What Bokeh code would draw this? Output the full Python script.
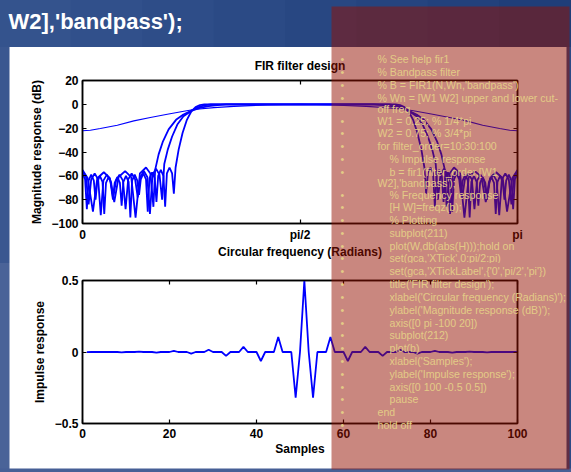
from bokeh.plotting import figure
from bokeh.layouts import column
from bokeh.models import LinearAxis, FixedTicker, Range1d
from bokeh.embed import file_html
from bokeh.resources import INLINE
from bokeh.core.properties import value

# ---------------- data ----------------
slide_title = "W2],'bandpass');"

freq_ticks = [0, 0.5, 1]
freq_tick_labels = {0: "0", 0.5: "pi/2", 1: "pi"}
mag_ticks = [-100, -80, -60, -40, -20, 0, 20]
samp_ticks = [0, 20, 40, 60, 80, 100]
imp_ticks = [-0.5, 0, 0.5]

# magnitude responses, frequency in units of pi
w10 = [0, 0.018, 0.041, 0.080, 0.118, 0.156, 0.195, 0.233, 0.256, 0.302, 0.348, 0.425, 0.500,
       0.575, 0.652, 0.698, 0.744, 0.767, 0.805, 0.844, 0.882, 0.920, 0.959, 0.982, 1.0]
db10 = [-22.2, -21.7, -20.3, -17.5, -13.9, -11.1, -8.3, -5.8, -4.4, -2.8, -1.7, -0.5, 0,
        -0.5, -1.7, -2.8, -4.4, -5.8, -8.3, -11.1, -13.9, -17.5, -20.3, -21.7, -22.2]

w40 = [0.000, 0.012, 0.024, 0.034, 0.049, 0.063, 0.073, 0.083, 0.098, 0.112, 0.122, 0.132,
       0.146, 0.156, 0.163, 0.167, 0.175, 0.185, 0.198, 0.215, 0.232, 0.250, 0.270, 0.290,
       0.310, 0.330, 0.360, 0.500,
       0.640, 0.670, 0.690, 0.710, 0.730, 0.750, 0.768, 0.785, 0.802, 0.815, 0.825, 0.833,
       0.837, 0.844, 0.854, 0.868, 0.878, 0.888, 0.902, 0.917, 0.927, 0.937, 0.951, 0.966,
       0.976, 0.988, 1.000]
db40 = [-55, -62, -90, -62, -57, -62, -82, -61, -56, -61, -95, -58,
        -53, -58, -86, -55, -42, -31, -21, -13, -8.5, -5.5, -3, -1.5,
        -0.6, -0.1, 0, 0,
        0, -0.1, -0.6, -1.5, -3, -5.5, -8.5, -13, -21, -31, -42, -55,
        -86, -58, -53, -58, -95, -61, -56, -61, -82, -62, -57, -62,
        -90, -62, -55]

w70 = [0.000, 0.008,
       0.014, 0.020, 0.028, 0.036, 0.042, 0.048, 0.056, 0.064, 0.070, 0.077, 0.085, 0.093,
       0.099, 0.105, 0.113, 0.121, 0.127, 0.133, 0.141, 0.149, 0.155, 0.161, 0.169, 0.177,
       0.183, 0.188, 0.196, 0.206, 0.218, 0.232, 0.250, 0.265, 0.280, 0.295, 0.400, 0.500,
       0.600, 0.705, 0.720, 0.735, 0.750, 0.768, 0.782, 0.794, 0.804, 0.812,
       0.817, 0.823, 0.831, 0.839, 0.845, 0.851, 0.859, 0.867, 0.873, 0.879, 0.887, 0.895,
       0.901, 0.907, 0.915, 0.923, 0.930, 0.936, 0.944, 0.952, 0.958, 0.964, 0.972, 0.980,
       0.986, 0.992, 1.000]
db70 = [-56, -61,
        -84, -63, -58, -63, -93, -64, -59, -64, -80, -64, -59, -64,
        -88, -63, -58, -63, -78, -61, -56, -61, -92, -59, -54, -59,
        -80, -50, -38, -27, -17, -10, -5.5, -2.5, -0.8, 0, 0, 0,
        0, 0, -0.8, -2.5, -5.5, -10, -17, -27, -38, -50,
        -80, -59, -54, -59, -92, -61, -56, -61, -78, -63, -58, -63,
        -88, -64, -59, -64, -80, -64, -59, -64, -93, -63, -58, -63,
        -84, -61, -56]

w100 = [0.000, 0.006,
        0.010, 0.014, 0.020, 0.026, 0.030, 0.034, 0.040, 0.046, 0.050, 0.054, 0.060, 0.066,
        0.070, 0.074, 0.080, 0.086, 0.090, 0.094, 0.100, 0.106, 0.110, 0.114, 0.120, 0.126,
        0.130, 0.134, 0.140, 0.146, 0.150, 0.154, 0.160, 0.166, 0.170, 0.174, 0.180, 0.186,
        0.190, 0.194, 0.200, 0.206, 0.210,
        0.214, 0.221, 0.230, 0.240, 0.250, 0.260, 0.270, 0.280, 0.350, 0.500,
        0.650, 0.720, 0.730, 0.740, 0.750, 0.760, 0.770, 0.779, 0.786,
        0.790, 0.794, 0.800, 0.806, 0.810, 0.814, 0.820, 0.826, 0.830, 0.834, 0.840, 0.846,
        0.850, 0.854, 0.860, 0.866, 0.870, 0.874, 0.880, 0.886, 0.890, 0.894, 0.900, 0.906,
        0.910, 0.914, 0.920, 0.926, 0.930, 0.934, 0.940, 0.946, 0.950, 0.954, 0.960, 0.966,
        0.970, 0.974, 0.980, 0.986, 0.990, 0.994, 1.000]
db100 = [-58, -63,
         -88, -64, -59, -64, -80, -65, -60, -65, -92, -66, -61, -66,
         -78, -66, -61, -66, -85, -65, -60, -65, -95, -64, -59, -64,
         -76, -63, -58, -63, -90, -62, -57, -62, -82, -60, -55, -60,
         -86, -58, -53, -58, -75,
         -53, -38, -24, -13, -6, -2.3, -0.6, 0, 0, 0,
         0, 0, -0.6, -2.3, -6, -13, -24, -38, -53,
         -75, -58, -53, -58, -86, -60, -55, -60, -82, -62, -57, -62,
         -90, -63, -58, -63, -76, -64, -59, -64, -95, -65, -60, -65,
         -85, -66, -61, -66, -78, -66, -61, -66, -92, -65, -60, -65,
         -80, -64, -59, -64, -88, -63, -58]

# impulse response of the order-100 filter (samples 1..101)
samples = list(range(1, 102))
impulse = [-0.001, 0, 0, 0, 0.0012, 0, 0, 0, -0.002, 0, 0, 0, 0.003, 0, 0, 0,
           -0.005, 0, 0, 0, 0.008, 0, 0, 0, -0.011, 0, 0, 0, 0.016, 0, 0, 0,
           -0.027, 0, 0, 0, 0.036, 0, 0, 0, -0.063, 0, 0, 0, 0.105, 0, 0, 0,
           -0.32, 0, 0.5, 0, -0.32, 0, 0, 0, 0.105, 0, 0, 0, -0.063, 0, 0, 0,
           0.036, 0, 0, 0, -0.027, 0, 0, 0, 0.016, 0, 0, 0, -0.011, 0, 0, 0,
           0.008, 0, 0, 0, -0.005, 0, 0, 0, 0.003, 0, 0, 0, -0.002, 0, 0, 0,
           0.0012, 0, 0, 0, -0.001]

# code shown on the overlay: text, indent level, bullet
code_text = [
    "% See help fir1", "% Bandpass filter", "% B = FIR1(N,Wn,'bandpass')",
    "% Wn = [W1 W2] upper and lower cut-", "off freq", "W1 = 0.25; % 1/4*pi",
    "W2 = 0.75; % 3/4*pi", "for filter_order=10:30:100", "% Impulse response",
    "b = fir1(filter_order,[W1", "W2],'bandpass');", "% Frequency response",
    "[H W]=freqz(b);", "% Plotting", "subplot(211)", "plot(W,db(abs(H)));hold on",
    "set(gca,'XTick',0:pi/2:pi)", "set(gca,'XTickLabel',{'0','pi/2','pi'})",
    "title('FIR filter design');", "xlabel('Circular frequency (Radians)');",
    "ylabel('Magnitude response (dB)');", "axis([0 pi -100 20])", "subplot(212)",
    "plot(b)", "xlabel('Samples');", "ylabel('Impulse response');",
    "axis([0 100 -0.5 0.5])", "pause", "end", "hold off",
]
code_indent = [0, 0, 0, 0, 0, 0, 0, 0, 1, 1, 0, 1, 1, 1, 1, 1, 1, 1, 1, 1, 1, 1, 1, 1, 1, 1, 1, 1, 0, 0]
code_bullet = [1, 1, 1, 1, 0, 1, 1, 1, 1, 1, 0, 1, 1, 1, 1, 1, 1, 1, 1, 1, 1, 1, 1, 1, 1, 1, 1, 1, 1, 1]

# ---------------- layout (page pixels) ----------------
code_line_y = [58, 71, 84, 97, 108, 120, 132, 145, 158, 171, 182, 194, 206, 219, 232, 245,
               257, 270, 283, 296, 309, 322, 334, 347, 360, 373, 386, 398, 411, 424]
FONT = "Liberation Sans"
W = 571
FR_L, FR_R = 82, 517
HEAD_BLUES = ["#34538d", "#31508b", "#2e4d88", "#2b4a85", "#284782", "#25447f", "#22417c", "#1f3e79"]
LEFT_BLUE_T = "#3a5790"
LEFT_BLUE_B = "#4a6398"
RIGHT_BLUE = "#2c4a86"
BOTTOM_BLUE = "#465f96"
OV_COLOR = "#930f00"
OV_ALPHA = 0.5
OV_L, OV_R = 331, 569
TXT = "#e3cb86"
BLUE = "#0000ff"
CODE_SIZE = "10.6px"


def quad(p, l, r, t, b, color, alpha=1.0, **kw):
    g = p.quad(left=[l], right=[r], top=[t], bottom=[b], fill_color=color, fill_alpha=alpha,
               line_color=None, **kw)
    g.level = "overlay"


def add_code(p, top_page, height, **kw):
    xs, ys, txt, bx, by = [], [], [], [], []
    for text, lvl, bul, py in zip(code_text, code_indent, code_bullet, code_line_y):
        y = py - top_page
        if y < 0 or y >= height:
            continue
        xs.append(377 if lvl == 0 else 389)
        ys.append(y)
        txt.append(text)
        if bul:
            bx.append(340)
            by.append(y)
    for x, y, s in ((bx, by, ["\u2022"] * len(bx)), (xs, ys, txt)):
        if not x:
            continue
        g = p.text(x=x, y=y, text=s, text_font=value(FONT), text_font_size=CODE_SIZE,
                   text_color=TXT, text_baseline="middle", text_align="left", **kw)
        g.level = "overlay"


def style_axis(ax, ticks, labels=True, overrides=None, label_standoff=4, axis_label_standoff=4):
    if labels:
        ax.ticker = FixedTicker(ticks=ticks)
    else:
        ax.ticker = FixedTicker(ticks=[], minor_ticks=ticks)
    ax.major_tick_in = 4
    ax.major_tick_out = 0
    ax.minor_tick_in = 4
    ax.minor_tick_out = 0
    ax.axis_line_color = "black"
    ax.axis_line_width = 1.5
    ax.major_tick_line_color = "black"
    ax.major_tick_line_width = 1.2
    ax.minor_tick_line_color = "black"
    ax.minor_tick_line_width = 1.2
    ax.major_label_text_font = FONT
    ax.major_label_text_font_style = "bold"
    ax.major_label_text_color = "black"
    ax.major_label_text_font_size = "12px"
    ax.major_label_standoff = label_standoff if labels else 0
    ax.axis_label_text_font = FONT
    ax.axis_label_text_font_style = "bold"
    ax.axis_label_text_font_size = "12px"
    ax.axis_label_text_color = "black"
    ax.axis_label_standoff = axis_label_standoff
    if overrides:
        ax.major_label_overrides = overrides


def base_fig(top_page, height, xr, yr, fr_top, fr_bottom):
    top = fr_top - top_page
    bottom = fr_bottom - top_page
    p = figure(width=W, height=height, x_range=xr, y_range=yr,
               output_backend="svg", toolbar_location=None,
               min_border_left=FR_L, min_border_right=W - FR_R,
               min_border_top=top, min_border_bottom=height - bottom)
    # canvas-pixel ranges for the slide decorations
    p.extra_x_ranges = {"cx": Range1d(FR_L, FR_R)}
    p.extra_y_ranges = {"cy": Range1d(bottom, top)}
    p.grid.visible = False
    p.outline_line_color = "black"
    p.outline_line_width = 1.5
    p.background_fill_color = "white"
    p.border_fill_color = "white"
    return p


# ---------------- header ----------------
H_H = 47
h = figure(width=W, height=H_H, x_range=Range1d(FR_L, FR_R), y_range=Range1d(H_H, 0),
           output_backend="svg", toolbar_location=None,
           min_border_left=FR_L, min_border_right=W - FR_R, min_border_top=0, min_border_bottom=0)
h.axis.visible = False
h.grid.visible = False
h.outline_line_color = None
h.background_fill_color = HEAD_BLUES[3]
h.border_fill_color = HEAD_BLUES[3]
band = W / len(HEAD_BLUES)
for i, c in enumerate(HEAD_BLUES):
    quad(h, i * band - 1, (i + 1) * band + 1, -3, H_H + 3, c)
quad(h, OV_L, OV_R, 6, H_H + 3, OV_COLOR, OV_ALPHA)
ht = h.text(x=[8], y=[21], text=[slide_title], text_font=value(FONT), text_font_size="22px",
            text_font_style="bold", text_color="white", text_baseline="middle")
ht.level = "overlay"

CX = dict(x_range_name="cx", y_range_name="cy")

# ---------------- magnitude plot ----------------
T_TOP, T_H = 47, 216
t = base_fig(T_TOP, T_H, Range1d(0, 1), Range1d(-100, 20), 80, 223)
t.title.text = "FIR filter design"
t.title.align = "center"
t.title.text_font = FONT
t.title.text_font_size = "12px"
t.title.text_font_style = "bold"
t.title.text_color = "black"
t.title.standoff = 15
style_axis(t.xaxis[0], freq_ticks, overrides=freq_tick_labels, label_standoff=4, axis_label_standoff=0)
t.xaxis[0].axis_label = "Circular frequency (Radians)"
style_axis(t.yaxis[0], mag_ticks, label_standoff=4, axis_label_standoff=4)
t.yaxis[0].axis_label = "Magnitude response (dB)"
ta = LinearAxis()
style_axis(ta, freq_ticks, labels=False)
t.add_layout(ta, "above")
tr = LinearAxis()
style_axis(tr, mag_ticks, labels=False)
t.add_layout(tr, "right")

t.line(w10, db10, line_color=BLUE, line_width=1.1)
t.line(w40, db40, line_color=BLUE, line_width=1.8)
t.line(w70, db70, line_color=BLUE, line_width=1.8)
t.line(w100, db100, line_color=BLUE, line_width=1.8)
quad(t, -3, 9, -3, T_H + 3, LEFT_BLUE_T, **CX)
quad(t, 566, W + 3, -3, T_H + 3, RIGHT_BLUE, **CX)
quad(t, OV_L, OV_R, -3, T_H + 3, OV_COLOR, OV_ALPHA, **CX)
add_code(t, T_TOP, T_H, **CX)

# ---------------- impulse plot ----------------
B_TOP, B_H = 263, 209
b = base_fig(B_TOP, B_H, Range1d(0, 100), Range1d(-0.5, 0.5), 280, 423)
style_axis(b.xaxis[0], samp_ticks, label_standoff=5, axis_label_standoff=1)
b.xaxis[0].axis_label = "Samples"
style_axis(b.yaxis[0], imp_ticks, label_standoff=4, axis_label_standoff=5)
b.yaxis[0].axis_label = "Impulse response"
ba = LinearAxis()
style_axis(ba, samp_ticks, labels=False)
b.add_layout(ba, "above")
br = LinearAxis()
style_axis(br, imp_ticks, labels=False)
b.add_layout(br, "right")
b.line(samples, impulse, line_color=BLUE, line_width=1.8)
quad(b, -3, 9, -3, B_H + 3, LEFT_BLUE_B, **CX)
quad(b, 566, W + 3, -3, B_H + 3, RIGHT_BLUE, **CX)
quad(b, -3, W + 3, 468 - B_TOP, B_H + 3, BOTTOM_BLUE, **CX)
quad(b, OV_L, OV_R, -3, 469 - B_TOP, OV_COLOR, OV_ALPHA, **CX)
add_code(b, B_TOP, B_H, **CX)

page = column(h, t, b, spacing=0)
open("out.html", "w").write(file_html(page, INLINE))
